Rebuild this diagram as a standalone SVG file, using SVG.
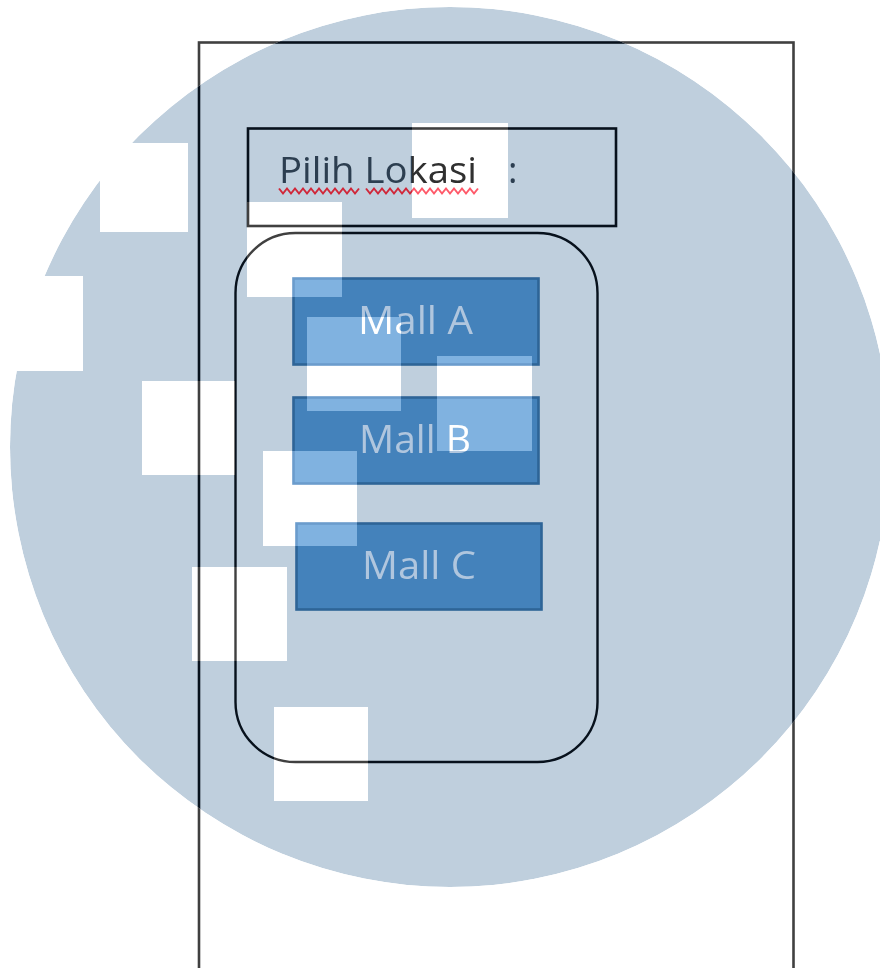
<svg xmlns="http://www.w3.org/2000/svg" xmlns:xlink="http://www.w3.org/1999/xlink" width="880" height="968" viewBox="0 0 880 968">
<style>
.frame{fill:none;stroke:var(--line);stroke-width:2.6}
.panel{fill:none;stroke:var(--line);stroke-width:2.4}
.label{fill:none;stroke:var(--line);stroke-width:2.6}
.box{fill:var(--boxfill);stroke:var(--boxstroke);stroke-width:2.6}
.lbl{font-family:"Open Sans","Noto Sans","Liberation Sans",sans-serif;font-size:36px;fill:var(--text)}
.mall{font-family:"Open Sans","Noto Sans","Liberation Sans",sans-serif;font-size:38px;fill:var(--malltext)}
.wavy{fill:none;stroke:var(--wavy);stroke-width:2}
</style>
<defs>
<g id="sq">
<rect x="100" y="143" width="88" height="89"/>
<rect x="412" y="123" width="96" height="95"/>
<rect x="247" y="202" width="95" height="95"/>
<rect x="-12" y="276" width="95" height="95"/>
<rect x="142" y="381" width="93" height="94"/>
<rect x="307" y="317" width="94" height="94"/>
<rect x="437" y="356" width="95" height="95"/>
<rect x="263" y="451" width="94" height="95"/>
<rect x="192" y="567" width="95" height="94"/>
<rect x="274" y="707" width="94" height="94"/>
</g>
<mask id="m-circ" maskUnits="userSpaceOnUse" x="0" y="0" width="880" height="968">
<circle cx="450" cy="447" r="440" fill="#fff"/>
<use href="#sq" fill="#000"/>
</mask>
<mask id="m-out" maskUnits="userSpaceOnUse" x="0" y="0" width="880" height="968">
<rect x="0" y="0" width="880" height="968" fill="#fff"/>
<circle cx="450" cy="447" r="440" fill="#000"/>
<use href="#sq" fill="#fff"/>
</mask>
</defs>

<g id="layer-plain" mask="url(#m-out)" style="--line:#404040;--boxfill:#80b2e0;--boxstroke:#6b9ccc;--text:#303030;--malltext:#ffffff;--wavy:#ff5a6a">
<rect x="0" y="0" width="880" height="968" fill="#ffffff"/>
<use href="#diagram"/>
</g>

<g id="layer-watermark" mask="url(#m-circ)" style="--line:#07111c;--boxfill:#4482bb;--boxstroke:#2e6497;--text:#2c3e50;--malltext:#b0c6de;--wavy:#d0283a">
<circle cx="450" cy="447" r="440" fill="#bfcfdd"/>
<g id="diagram">
<g id="screen">
<rect class="frame" x="199" y="42.5" width="594.5" height="960"/>
</g>
<g id="title">
<rect class="label" x="248" y="128.5" width="368" height="97.5"/>
<text class="lbl" x="279" y="183" textLength="198" lengthAdjust="spacingAndGlyphs">Pilih Lokasi</text>
<text class="lbl" x="508" y="183">:</text>
<path class="wavy" d="M279,188.5 l4,5 l4,-5 l4,5 l4,-5 l4,5 l4,-5 l4,5 l4,-5 l4,5 l4,-5 l4,5 l4,-5 l4,5 l4,-5 l4,5 l4,-5 l4,5 l4,-5 l4,5 l4,-5"/>
<path class="wavy" d="M366,188.5 l4,5 l4,-5 l4,5 l4,-5 l4,5 l4,-5 l4,5 l4,-5 l4,5 l4,-5 l4,5 l4,-5 l4,5 l4,-5 l4,5 l4,-5 l4,5 l4,-5 l4,5 l4,-5 l4,5 l4,-5 l4,5 l4,-5 l4,5 l4,-5 l4,5 l4,-5"/>
</g>
<g id="list">
<rect class="panel" x="235.5" y="233" width="362" height="529" rx="60" ry="60"/>
</g>
<g id="mall-a">
<rect class="box" x="293.5" y="278.5" width="245" height="86"/>
<text class="mall" x="358" y="334" textLength="115" lengthAdjust="spacingAndGlyphs">Mall A</text>
</g>
<g id="mall-b">
<rect class="box" x="293.5" y="397.5" width="245" height="86"/>
<text class="mall" x="359" y="453" textLength="112" lengthAdjust="spacingAndGlyphs">Mall B</text>
</g>
<g id="mall-c">
<rect class="box" x="296.5" y="523.5" width="245" height="86"/>
<text class="mall" x="362" y="579" textLength="114" lengthAdjust="spacingAndGlyphs">Mall C</text>
</g>
</g>
</g>
</svg>
